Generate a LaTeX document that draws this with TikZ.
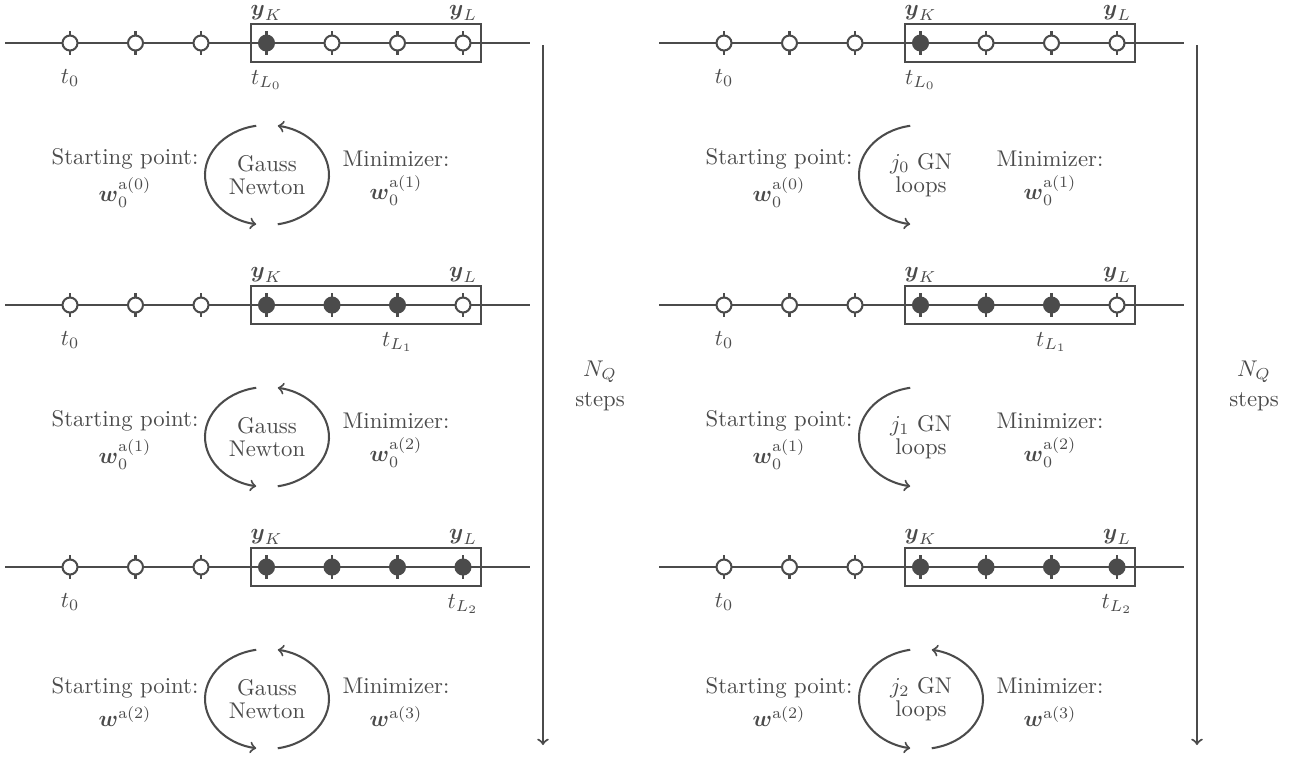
\documentclass[tikz,border=0pt]{standalone}
\usepackage{amsmath}
\usepackage{tikz}
\definecolor{dgray}{RGB}{75,75,75}

\begin{document}
\begin{tikzpicture}[x=0.44pt,y=-0.44pt,line width=0.9pt,color=dgray]
  \tikzstyle{emptydot}=[circle,draw=dgray,fill=white,line width=0.9pt,inner sep=0pt,minimum size=6.6pt]
  \tikzstyle{fulldot}=[emptydot,fill=dgray]
  \tikzstyle{txt}=[align=center,inner sep=1pt]
  \useasboundingbox (0,0) rectangle (1304,758);

  \foreach \p/\ox in {0/0,1/654}{
    \foreach \r in {0,1,2}{
      \pgfmathsetmacro{\oy}{43+262*\r}
      \pgfmathsetmacro{\cy}{\oy+132}
      \pgfmathtruncatemacro{\last}{min(3+2*\r,6)}
      \pgfmathtruncatemacro{\nx}{\r+1}
      \pgfmathtruncatemacro{\both}{(\p==0)||(\r==2)}
      % time axis with window
      \draw[line width=0.6pt] (\ox+5,\oy) -- (\ox+530,\oy);
      \draw[line width=1.1pt] (\ox+70,\oy) -- (\ox+463,\oy);
      \draw[line width=1pt] (\ox+251,\oy-19) rectangle (\ox+481,\oy+19);
      \foreach \i in {0,...,6}{
        \pgfmathsetmacro{\tx}{\ox+70+65.5*\i}
        \draw[line width=0.9pt] (\tx,\oy-12) -- (\tx,\oy+12);
        \ifnum\i<3 \def\dotstyle{emptydot}\else\ifnum\i>\last \def\dotstyle{emptydot}\else\def\dotstyle{fulldot}\fi\fi
        \node[\dotstyle] (c\p\r\i) at (\tx,\oy) {};
      }
      \node[inner sep=0pt,yshift=13.2pt] (yk\p\r) at (c\p\r3) {$\boldsymbol{y}_K$};
      \node[inner sep=0pt,yshift=13.2pt] (yl\p\r) at (c\p\r6) {$\boldsymbol{y}_L$};
      \node[yshift=-15.4pt] (tz\p\r) at (c\p\r0) {$t_0$};
      \node[yshift=-16.3pt] (tl\p\r) at (c\p\r\last) {$t_{L_\r}$};

      % optimisation loop
      \node[txt] (gn\p\r) at (\ox+267,\cy) {\ifnum\p=0 Gauss\\[-2.2pt]Newton\else $j_\r$ GN\\[-2pt]loops\fi};
      \draw[->] (\ox+267,\cy) ++(260:62 and 50) arc[start angle=260,end angle=100,x radius=62,y radius=50];
      \ifnum\both=1
        \draw[->] (\ox+267,\cy) ++(80:62 and 50) arc[start angle=80,end angle=-80,x radius=62,y radius=50];
      \fi
      \node[txt] (sp\p\r) at (\ox+125,\cy+3) {Starting point:\\[2.5pt] $\boldsymbol{w}\ifnum\r<2 _0\fi^{\mathrm{a}(\r)}$};
      \node[txt] (mn\p\r) at (\ox+396,\cy+3) {Minimizer:\\[2.5pt] $\boldsymbol{w}\ifnum\r<2 _0\fi^{\mathrm{a}(\nx)}$};
    }
    \coordinate (qtop\p) at (\ox+543,45);
    \coordinate (qbot\p) at (\ox+543,745);
    \draw[->] (qtop\p) -- (qbot\p);
    \node[txt] (nq\p) at (\ox+600,386) {$N_Q$\\[1.5pt]steps};
  }
\end{tikzpicture}
\end{document}
